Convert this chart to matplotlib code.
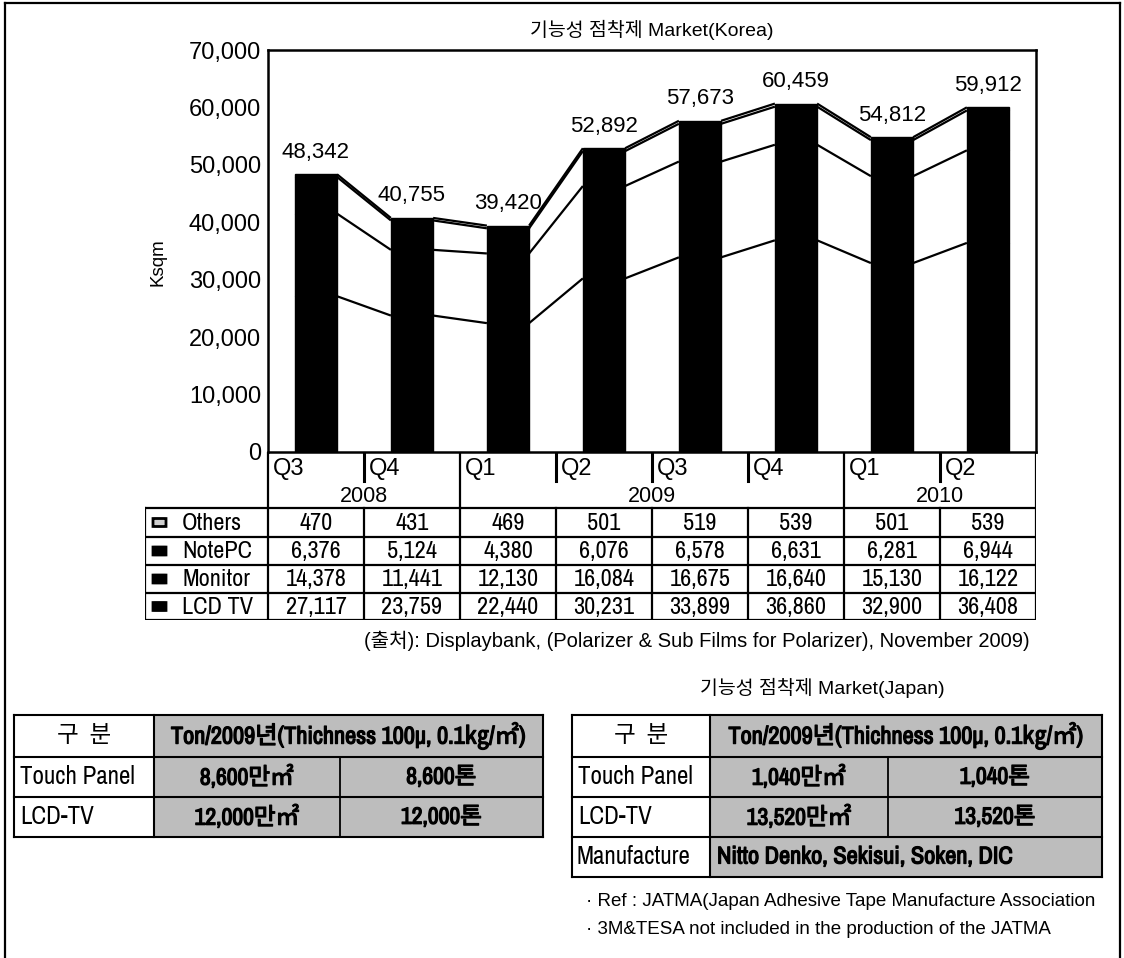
import matplotlib
matplotlib.use("Agg")
import matplotlib.pyplot as plt
import matplotlib.patheffects as pe
from matplotlib import font_manager
from matplotlib.patches import Rectangle, FancyBboxPatch


def has_font(name):
    try:
        font_manager.findfont(font_manager.FontProperties(family=name),
                              fallback_to_default=False)
        return True
    except Exception:
        return False


narrow = 'Liberation Sans'
for cand in ['Archivo Narrow', 'Roboto Condensed', 'PT Sans Narrow']:
    if has_font(cand):
        narrow = cand
        break
REG = ['Liberation Sans', 'Noto Sans CJK KR', 'DejaVu Sans']
NAR = [narrow, 'Noto Sans CJK KR', 'DejaVu Sans']
plt.rcParams['font.family'] = REG
# heavy look of the text printed on the shaded cells
HEAVY = [pe.withStroke(linewidth=0.9, foreground='black')]

# ---- data (Korea market, Ksqm) ----
quarters = ['Q3', 'Q4', 'Q1', 'Q2', 'Q3', 'Q4', 'Q1', 'Q2']
years = ['2008', '2009', '2010']
year_first = [0, 2, 6]
year_last = [1, 5, 7]
series = ['Others', 'NotePC', 'Monitor', 'LCD TV']
lcd_tv = [27117, 23759, 22440, 30231, 33899, 36860, 32900, 36408]
monitor = [14378, 11441, 12130, 16084, 16675, 16640, 15130, 16122]
notepc = [6376, 5124, 4380, 6076, 6578, 6631, 6281, 6944]
others = [470, 431, 469, 501, 519, 539, 501, 539]
totals = [48342, 40755, 39420, 52892, 57673, 60459, 54812, 59912]
yticks = [0, 10000, 20000, 30000, 40000, 50000, 60000, 70000]

# ---- tables (Japan etc.) ----
tbl_head = ['구  분', 'Ton/2009년(Thichness 100µ, 0.1㎏/㎡)']
kr_rows = [['Touch Panel', '8,600만㎡', '8,600톤'],
           ['LCD-TV', '12,000만㎡', '12,000톤']]
jp_rows = [['Touch Panel', '1,040만㎡', '1,040톤'],
           ['LCD-TV', '13,520만㎡', '13,520톤']]
jp_maker = ['Manufacture', 'Nitto Denko, Sekisui, Soken, DIC']
notes = ['· Ref : JATMA(Japan Adhesive Tape Manufacture Association',
         '· 3M&TESA not included in the production of the JATMA']
source = '(출처): Displaybank, (Polarizer & Sub Films for Polarizer), November 2009)'

W, H = 1124, 958
fig = plt.figure(figsize=(W / 100, H / 100), dpi=100)


def box(x0, y0, x1, y1):
    return [x0 / W, 1 - y1 / H, (x1 - x0) / W, (y1 - y0) / H]


# overlay in pixel coords for frame, titles and the small tables
ov = fig.add_axes([0, 0, 1, 1])
ov.set_xlim(0, W)
ov.set_ylim(H, 0)
ov.axis('off')

# main chart
PL, PR, PT, PB = 268, 1036, 50, 452
ax = fig.add_axes(box(PL, PT, PR, PB))
n = len(quarters)
xs = list(range(n))
bw = 0.44
layers = [lcd_tv, monitor, notepc, others]
bottom = [0] * n
tops = []
for vals in layers:
    ax.bar(xs, vals, bw, bottom=bottom, color='black', edgecolor='black', lw=1)
    bottom = [b + v for b, v in zip(bottom, vals)]
    tops.append(bottom)

# series lines between the bars
for cum in tops:
    for i in range(n - 1):
        ax.plot([i + bw / 2, i + 1 - bw / 2], [cum[i], cum[i + 1]],
                color='black', lw=1.6, solid_capstyle='butt')

for i, t in enumerate(totals):
    ax.annotate(f'{t:,}', (i, tops[-1][i]), xytext=(0, 12),
                textcoords='offset points', ha='center', va='baseline',
                fontsize=16)

ax.set_xlim(-0.5, n - 0.5)
ax.set_ylim(0, 70000)
ax.set_yticks(yticks)
ax.set_yticklabels([f'{v:,}' for v in yticks], fontsize=17)
ax.set_xticks([])
ax.tick_params(axis='y', length=0, pad=5)
for s in ax.spines.values():
    s.set_linewidth(1.8)

# category / data table under the chart, same x scale
TL, TB = 145, 620
cw = (PR - PL) / n
tx = fig.add_axes(box(TL, PB, PR, TB))
tx.set_xlim(-0.5 - (PL - TL) / cw, n - 0.5)
tx.set_ylim(TB, PB)
tx.axis('off')
x_left = -0.5 - (PL - TL) / cw


def px2x(p):
    return -0.5 + (p - PL) / cw


row_y = [508, 537, 565, 593, 620]
lw_t = 1.6
for y in row_y:
    tx.plot([x_left, n - 0.5], [y, y], color='black', lw=lw_t)
tx.plot([x_left, x_left], [row_y[0], row_y[-1]], color='black', lw=lw_t)
tx.plot([-0.5, -0.5], [PB, row_y[-1]], color='black', lw=lw_t)
tx.plot([n - 0.5, n - 0.5], [PB, row_y[-1]], color='black', lw=lw_t)
for i in range(n - 1):
    xb = i + 0.5
    tx.plot([xb, xb], [row_y[0], row_y[-1]], color='black', lw=lw_t)
    if (i + 1) in year_first:
        tx.plot([xb, xb], [PB, row_y[0]], color='black', lw=lw_t)
    else:
        tx.plot([xb, xb], [PB, 481], color='black', lw=2.2)

for i, q in enumerate(quarters):
    tx.text(i - 0.5 + 5 / cw, 469, q, ha='left', va='center', fontsize=17)
for yr, a, b in zip(years, year_first, year_last):
    tx.text((a + b) / 2, 497, yr, ha='center', va='center', fontsize=15.5)

table_vals = [others, notepc, monitor, lcd_tv]
for r, (name, vals) in enumerate(zip(series, table_vals)):
    yc = (row_y[r] + row_y[r + 1]) / 2
    fc = '#cfcfcf' if name == 'Others' else 'black'
    tx.add_patch(FancyBboxPatch((px2x(153), yc - 4), px2x(166) - px2x(153), 8,
                                boxstyle='round,pad=0,rounding_size=0.04',
                                facecolor=fc, edgecolor='black', lw=2))
    tx.text(px2x(182), yc + 1, name, ha='left', va='center', fontsize=17.5,
            family=NAR)
    for i, v in enumerate(vals):
        tx.text(i, yc + 1, f'{v:,}', ha='center', va='center', fontsize=17.5,
                family=NAR)

# frame around the whole page
ov.plot([5, 5], [3, H], color='black', lw=1.6)
ov.plot([5, 1120], [3, 3], color='black', lw=1.6)
ov.plot([1120, 1120], [3, H], color='black', lw=1.6)

ov.text((PL + PR) / 2, 30, '기능성 점착제 Market(Korea)', ha='center',
        va='center', fontsize=14)
ov.text(158, 262, 'Ksqm', rotation=90, ha='center', va='center', fontsize=13.5)
ov.text(1030, 641, source, ha='right', va='center', fontsize=14.5)
ov.text(822, 688, '기능성 점착제 Market(Japan)', ha='center', va='center',
        fontsize=14)

SHADE = '#bdbdbd'


def shaded_text(x, y, s, ha, size):
    ov.text(x, y, s, ha=ha, va='center', fontsize=size, family=NAR,
            path_effects=HEAVY)


def draw_table(cols, rows_y, body, maker=None):
    x0, x1, x2, x3 = cols
    # header
    ov.add_patch(Rectangle((x1, rows_y[0]), x3 - x1, rows_y[1] - rows_y[0],
                           facecolor=SHADE, edgecolor='none'))
    ov.text((x0 + x1) / 2, (rows_y[0] + rows_y[1]) / 2, tbl_head[0],
            ha='center', va='center', fontsize=17, family=NAR)
    shaded_text((x1 + x3) / 2, (rows_y[0] + rows_y[1]) / 2, tbl_head[1],
                'center', 17.5)
    for r, row in enumerate(body):
        ya, yb = rows_y[r + 1], rows_y[r + 2]
        ov.add_patch(Rectangle((x1, ya), x3 - x1, yb - ya,
                               facecolor=SHADE, edgecolor='none'))
        ym = (ya + yb) / 2
        ov.text(x0 + 6, ym, row[0], ha='left', va='center', fontsize=18,
                family=NAR)
        shaded_text((x1 + x2) / 2, ym, row[1], 'center', 17)
        shaded_text((x2 + x3) / 2, ym, row[2], 'center', 17)
        ov.plot([x2, x2], [ya, yb], color='black', lw=1.3)
    if maker is not None:
        ya, yb = rows_y[-2], rows_y[-1]
        ov.add_patch(Rectangle((x1, ya), x3 - x1, yb - ya,
                               facecolor=SHADE, edgecolor='none'))
        ym = (ya + yb) / 2
        ov.text(x0 + 5, ym, maker[0], ha='left', va='center', fontsize=18,
                family=NAR)
        shaded_text(x1 + 7, ym, maker[1], 'left', 17.5)
    for y in rows_y:
        ov.plot([x0, x3], [y, y], color='black', lw=1.5)
    for x in (x0, x1, x3):
        ov.plot([x, x], [rows_y[0], rows_y[-1]], color='black', lw=1.5)


draw_table((14, 154, 340, 543), [715, 757, 797, 837], kr_rows)
draw_table((572, 710, 888, 1102), [715, 757, 797, 837, 877], jp_rows,
           maker=jp_maker)

for k, line in enumerate(notes):
    ov.text(586, 902 + 28 * k, line, ha='left', va='center', fontsize=13.5)

fig.savefig('out.png', dpi=100)
